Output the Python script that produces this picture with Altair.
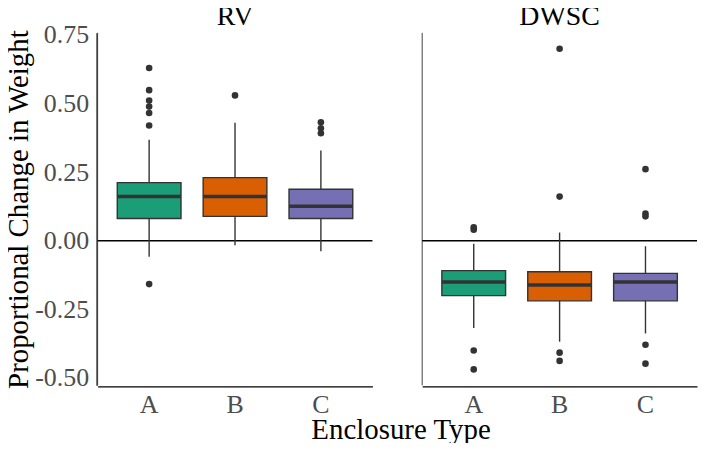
import altair as alt
import pandas as pd

# ---- data ----
sites = ["RV", "RV", "RV", "DWSC", "DWSC", "DWSC"]
enclosures = ["A", "B", "C", "A", "B", "C"]
lower = [-0.058, -0.016, -0.038, -0.318, -0.368, -0.338]
q1 = [0.081, 0.089, 0.081, -0.200, -0.219, -0.219]
median = [0.161, 0.161, 0.126, -0.150, -0.161, -0.150]
q3 = [0.212, 0.230, 0.188, -0.109, -0.113, -0.119]
upper = [0.368, 0.430, 0.329, -0.011, 0.030, -0.020]

out_site = ["RV"] * 11 + ["DWSC"] * 13
out_encl = (["A"] * 7 + ["B"] * 1 + ["C"] * 3
            + ["A"] * 4 + ["B"] * 4 + ["C"] * 5)
out_value = [0.630, 0.549, 0.511, 0.489, 0.466, 0.420, -0.158,
             0.530,
             0.432, 0.410, 0.392,
             0.049, 0.040, -0.400, -0.469,
             0.700, 0.161, -0.408, -0.438,
             0.261, 0.099, 0.089, -0.379, -0.448]

dark2 = ["#1B9E77", "#D95F02", "#7570B3"]

box_df = pd.DataFrame({"site": sites, "enclosure": enclosures, "kind": "box",
                       "lower": lower, "q1": q1, "median": median,
                       "q3": q3, "upper": upper})
out_df = pd.DataFrame({"site": out_site, "enclosure": out_encl, "kind": "out",
                       "value": out_value})
df = pd.concat([box_df, out_df], ignore_index=True)

FONT = "Liberation Serif"
YTITLE = "Proportional Change in Weight"
PANEL_W = 276
BOX_W = 64

xenc = alt.X("enclosure:N",
             scale=alt.Scale(paddingInner=0, paddingOuter=0.1),
             axis=alt.Axis(labelAngle=0), title=None)
yscale = alt.Scale(domain=[-0.527, 0.758], nice=False, zero=False)
yaxis = alt.Axis(values=[-0.5, -0.25, 0, 0.25, 0.5, 0.75],
                 labelExpr="datum.value < 0 ? '-' + format(-datum.value, '.2f') : format(datum.value, '.2f')")

def Y(field):
    return alt.Y(field, type="quantitative", scale=yscale, axis=yaxis, title=YTITLE)

is_box = "datum.kind == 'box'"
one_per_panel = "datum.kind == 'box' && datum.enclosure == 'A'"

vline = alt.Chart().mark_rule(color="#444444", strokeWidth=1).encode(
    x=alt.value(0)).transform_filter(one_per_panel)

zero = alt.Chart().mark_rule(color="black", strokeWidth=1.3).encode(
    y=alt.Y(datum=0, type="quantitative", scale=yscale, axis=yaxis, title=YTITLE)
).transform_filter(one_per_panel)

whisk = alt.Chart().mark_rule(color="#333333", strokeWidth=1.4).encode(
    x=xenc, y=Y("lower"), y2="upper").transform_filter(is_box)

boxes = alt.Chart().mark_bar(size=BOX_W, stroke="#333333", strokeWidth=1.4).encode(
    x=xenc, y=Y("q1"), y2="q3",
    color=alt.Color("enclosure:N", scale=alt.Scale(domain=["A", "B", "C"], range=dark2),
                    legend=None)).transform_filter(is_box)

med = alt.Chart().mark_tick(size=BOX_W, thickness=3.5, color="#333333", opacity=1).encode(
    x=xenc, y=Y("median")).transform_filter(is_box)

pts = alt.Chart().mark_circle(size=44, color="#333333", opacity=1).encode(
    x=xenc, y=Y("value")).transform_filter("datum.kind == 'out'")

layered = alt.layer(vline, zero, whisk, boxes, med, pts, data=df).properties(
    width=PANEL_W, height=354)

chart = layered.facet(
    column=alt.Column("site:N", sort=["RV", "DWSC"], title=None,
                      header=alt.Header(labelFontSize=28, labelFont=FONT,
                                        labelColor="black", labelPadding=1)),
    spacing=48,
).properties(
    padding={"left": -4, "top": -6, "right": 0, "bottom": -3},
    title=alt.TitleParams("Enclosure Type", orient="bottom", anchor="middle",
                          font=FONT, fontSize=29, fontWeight="normal",
                          color="black", offset=-1, dx=50),
).configure_view(stroke=None).configure_axis(
    grid=False, ticks=False, domainColor="black", domainWidth=1.3,
    labelFont=FONT, labelFontSize=26, labelColor="#4D4D4D",
    titleFont=FONT, titleFontSize=29, titleColor="black", titleFontWeight="normal",
).configure_axisY(labelPadding=8, titlePadding=1).configure_axisX(labelPadding=5)

chart.save("out.html", embed_options={"renderer": "svg", "actions": False})
